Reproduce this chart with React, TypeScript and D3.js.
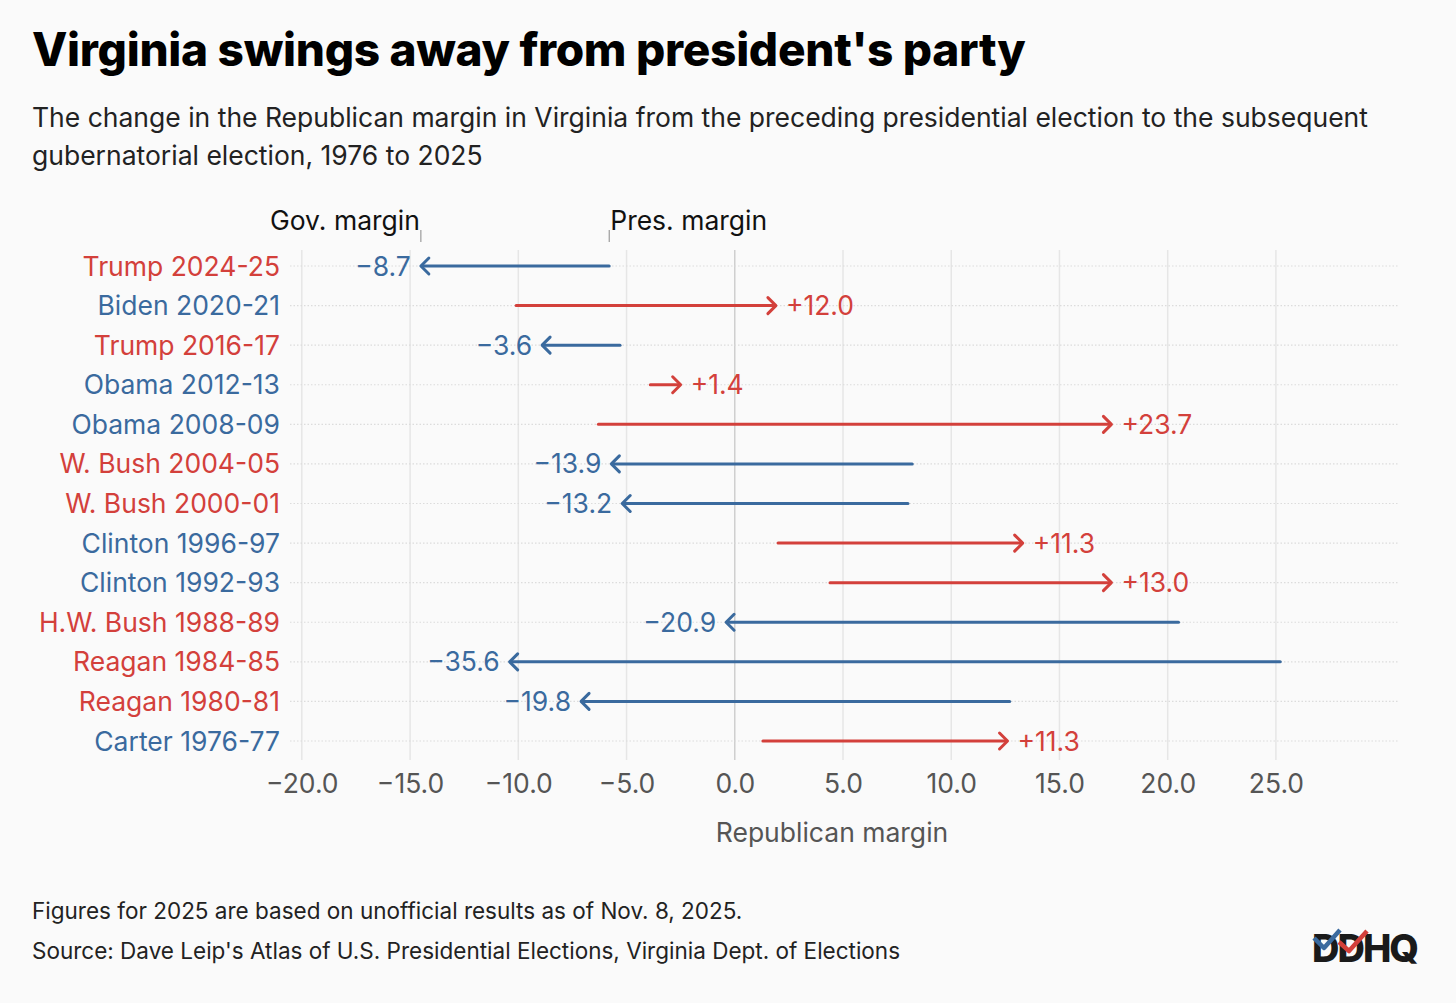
import React, { useEffect, useRef } from 'react';
import * as d3 from 'd3';

const rows = [
  'Trump 2024-25',
  'Biden 2020-21',
  'Trump 2016-17',
  'Obama 2012-13',
  'Obama 2008-09',
  'W. Bush 2004-05',
  'W. Bush 2000-01',
  'Clinton 1996-97',
  'Clinton 1992-93',
  'H.W. Bush 1988-89',
  'Reagan 1984-85',
  'Reagan 1980-81',
  'Carter 1976-77',
];
// party of the sitting president: R or D
const party = ['R', 'D', 'R', 'D', 'D', 'R', 'R', 'D', 'D', 'R', 'R', 'R', 'D'];
const presMargin = [-5.8, -10.1, -5.3, -3.9, -6.3, 8.2, 8.0, 2.0, 4.4, 20.5, 25.2, 12.7, 1.3];
const govMargin = [-14.5, 1.9, -8.9, -2.5, 17.4, -5.7, -5.2, 13.3, 17.4, -0.4, -10.4, -7.1, 12.6];
const change = [-8.7, 12.0, -3.6, 1.4, 23.7, -13.9, -13.2, 11.3, 13.0, -20.9, -35.6, -19.8, 11.3];
const xTicks = [-20, -15, -10, -5, 0, 5, 10, 15, 20, 25];

const RED = '#d3403b';
const BLUE = '#3a6a9e';
const FONT = 'Inter, "Noto Sans", sans-serif';
const FS = 26.5;

export default function App() {
  const svgRef = useRef<SVGSVGElement>(null);

  useEffect(() => {
    document.body.style.margin = '0';
    document.body.style.background = '#fafafa';
    if (!svgRef.current) return;
    const W = 1456;
    const H = 1003;
    const svg = d3.select(svgRef.current).attr('width', W).attr('height', H);
    svg.selectAll('*').remove();

    svg.append('rect').attr('width', W).attr('height', H).attr('fill', '#fafafa');

    const x = d3.scaleLinear().domain([-20.5, 30.5]).range([291, 1395]);
    const y = d3.scalePoint<string>().domain(rows).range([266, 741]);

    // title block
    svg.append('text').attr('x', 32).attr('y', 66).attr('font-family', FONT)
      .attr('font-size', 46).attr('font-weight', 800).attr('fill', '#000')
      .attr('letter-spacing', -0.3)
      .text("Virginia swings away from president's party");
    const sub = [
      'The change in the Republican margin in Virginia from the preceding presidential election to the subsequent',
      'gubernatorial election, 1976 to 2025',
    ];
    sub.forEach((s, i) => {
      svg.append('text').attr('x', 32).attr('y', 127 + i * 38).attr('font-family', FONT)
        .attr('font-size', FS).attr('fill', '#222').text(s);
    });

    const g = svg.append('g');

    // vertical gridlines
    g.selectAll('line.grid').data(xTicks).enter().append('line')
      .attr('x1', (d) => x(d)).attr('x2', (d) => x(d))
      .attr('y1', 250).attr('y2', 760)
      .attr('stroke', (d) => (d === 0 ? '#cfcfcf' : '#e6e6e6'))
      .attr('stroke-width', 1.5);

    // dotted row lines
    g.selectAll('line.row').data(rows).enter().append('line')
      .attr('x1', 290).attr('x2', 1398)
      .attr('y1', (d) => y(d)!).attr('y2', (d) => y(d)!)
      .attr('stroke', '#dcdcdc').attr('stroke-width', 1.2)
      .attr('stroke-dasharray', '1.5,2');

    // row labels
    g.selectAll('text.lab').data(rows).enter().append('text')
      .attr('x', 280).attr('y', (d) => y(d)! + 9.5)
      .attr('text-anchor', 'end').attr('font-family', FONT).attr('font-size', FS)
      .attr('fill', (d, i) => (party[i] === 'R' ? RED : BLUE))
      .text((d) => d);

    // arrows
    rows.forEach((r, i) => {
      const x0 = x(presMargin[i]);
      const x1 = x(govMargin[i]);
      const yy = y(r)!;
      const col = change[i] > 0 ? RED : BLUE;
      const dir = x1 > x0 ? 1 : -1;
      g.append('line').attr('x1', x0).attr('x2', x1 - dir * 1)
        .attr('y1', yy).attr('y2', yy)
        .attr('stroke', col).attr('stroke-width', 3).attr('stroke-linecap', 'round');
      const hp = d3.path();
      hp.moveTo(x1 - dir * 8, yy - 8);
      hp.lineTo(x1, yy);
      hp.lineTo(x1 - dir * 8, yy + 8);
      g.append('path').attr('d', hp.toString()).attr('fill', 'none')
        .attr('stroke', col).attr('stroke-width', 3)
        .attr('stroke-linecap', 'round').attr('stroke-linejoin', 'round');
      const label = (change[i] > 0 ? '+' : '\u2212') + Math.abs(change[i]).toFixed(1);
      g.append('text').attr('x', x1 + dir * 10).attr('y', yy + 9.5)
        .attr('text-anchor', dir > 0 ? 'start' : 'end')
        .attr('font-family', FONT).attr('font-size', FS).attr('fill', col)
        .text(label);
    });

    // annotations for the top row
    const gx = x(govMargin[0]);
    const px = x(presMargin[0]);
    g.append('line').attr('x1', gx).attr('x2', gx).attr('y1', 230).attr('y2', 242)
      .attr('stroke', '#888').attr('stroke-width', 1);
    g.append('line').attr('x1', px).attr('x2', px).attr('y1', 230).attr('y2', 242)
      .attr('stroke', '#888').attr('stroke-width', 1);
    g.append('text').attr('x', gx - 1).attr('y', 230).attr('text-anchor', 'end')
      .attr('font-family', FONT).attr('font-size', FS).attr('fill', '#111').text('Gov. margin');
    g.append('text').attr('x', px + 1).attr('y', 230).attr('text-anchor', 'start')
      .attr('font-family', FONT).attr('font-size', FS).attr('fill', '#111').text('Pres. margin');

    // x axis
    const axis = g.append('g').attr('transform', 'translate(0,760)')
      .call(d3.axisBottom(x).tickValues(xTicks).tickSize(0).tickPadding(14)
        .tickFormat((d) => d3.format('.1f')(d as number).replace('-', '\u2212')));
    axis.select('.domain').remove();
    axis.selectAll('text').attr('font-family', FONT).attr('font-size', FS).attr('fill', '#555');

    g.append('text').attr('x', 832).attr('y', 842).attr('text-anchor', 'middle')
      .attr('font-family', FONT).attr('font-size', FS).attr('fill', '#555').text('Republican margin');

    // footer
    svg.append('text').attr('x', 32).attr('y', 919).attr('font-family', FONT)
      .attr('font-size', 22.5).attr('fill', '#222')
      .text('Figures for 2025 are based on unofficial results as of Nov. 8, 2025.');
    svg.append('text').attr('x', 32).attr('y', 959).attr('font-family', FONT)
      .attr('font-size', 22.5).attr('fill', '#222')
      .text("Source: Dave Leip's Atlas of U.S. Presidential Elections, Virginia Dept. of Elections");

    // logo
    const logo = svg.append('g').attr('transform', 'translate(1312,962)');
    logo.append('text').attr('x', 0).attr('y', 0).attr('font-family', FONT)
      .attr('font-size', 38).attr('font-weight', 800).attr('fill', '#1a1a1a')
      .attr('letter-spacing', -2).text('DDHQ');
    logo.append('path').attr('d', 'M2,-24 L12,-14 L28,-32').attr('fill', 'none')
      .attr('stroke', BLUE).attr('stroke-width', 4.5).attr('stroke-linejoin', 'round');
    logo.append('path').attr('d', 'M27,-20 L37,-11 L55,-31').attr('fill', 'none')
      .attr('stroke', RED).attr('stroke-width', 4.5).attr('stroke-linejoin', 'round');
  }, []);

  return <svg ref={svgRef} style={{ display: 'block' }} />;
}
